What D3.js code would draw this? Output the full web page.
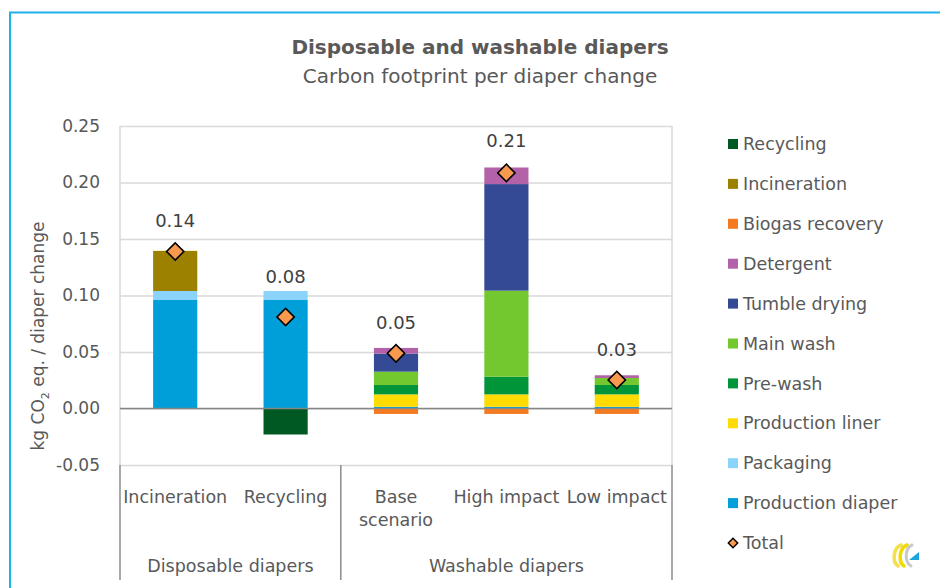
<!DOCTYPE html>
<html>
<head>
<meta charset="utf-8">
<script src="https://cdn.jsdelivr.net/npm/d3@7"></script>
<style>
  body { margin: 0; background: #fff; }
  text { font-family: "DejaVu Sans", sans-serif; fill: #595959; }
</style>
</head>
<body>
<div id="chart"></div>
<script>
// categories and groups
let categories = ['Incineration', 'Recycling', 'Base scenario', 'High impact', 'Low impact'];
let catLines = [['Incineration'], ['Recycling'], ['Base', 'scenario'], ['High impact'], ['Low impact']];
let groups = [{name: 'Disposable diapers', from: 0, to: 2}, {name: 'Washable diapers', from: 2, to: 5}];

// series values, stacking order bottom -> top
let productionDiaper = [0.096, 0.096, 0.0015, 0.0015, 0.0015];
let packaging        = [0.008, 0.008, 0, 0, 0];
let productionLiner  = [0, 0, 0.011, 0.011, 0.011];
let preWash          = [0, 0, 0.0083, 0.0156, 0.0083];
let mainWash         = [0, 0, 0.0118, 0.0762, 0.0062];
let tumbleDrying     = [0, 0, 0.016, 0.0943, 0];
let detergent        = [0, 0, 0.005, 0.0147, 0.0024];
let biogasRecovery   = [0, 0, -0.0048, -0.0048, -0.0048];
let incineration     = [0.0355, 0, 0, 0, 0];
let recycling        = [0, -0.023, 0, 0, 0];
let totals           = [0.139, 0.081, 0.0488, 0.2085, 0.0252];

let yTicks = [-0.05, 0, 0.05, 0.10, 0.15, 0.20, 0.25];

let series = [
    {name: 'Production diaper', values: productionDiaper, color: '#009fd9'},
    {name: 'Packaging', values: packaging, color: '#8ad3fb'},
    {name: 'Production liner', values: productionLiner, color: '#ffdb00'},
    {name: 'Pre-wash', values: preWash, color: '#009539'},
    {name: 'Main wash', values: mainWash, color: '#73c72f'},
    {name: 'Tumble drying', values: tumbleDrying, color: '#354a94'},
    {name: 'Detergent', values: detergent, color: '#b362a9'},
    {name: 'Biogas recovery', values: biogasRecovery, color: '#f47a22'},
    {name: 'Incineration', values: incineration, color: '#9c8100'},
    {name: 'Recycling', values: recycling, color: '#005823'}
];

const W = 940, H = 588;
const plot = {left: 120, right: 672, top: 126, bottom: 465};
const fmt = function(d) {return d.toFixed(2)};

let svg = d3.select('#chart').append('svg').attr('width', W).attr('height', H);

// outer frame
svg.append('rect')
    .attr('x', 10).attr('y', 12.5)
    .attr('width', 1000).attr('height', 700)
    .attr('fill', 'none')
    .attr('stroke', '#1fb1ea')
    .attr('stroke-width', 2);

let x = d3.scaleBand().domain(categories).range([plot.left, plot.right]).paddingInner(0.6).paddingOuter(0.3);
let y = d3.scaleLinear().domain([-0.05, 0.25]).range([plot.bottom, plot.top]);

// gridlines + y labels
let yAxis = svg.append('g')
    .attr('transform', 'translate(' + plot.left + ',0)')
    .call(d3.axisLeft(y).tickValues(yTicks).tickFormat(fmt).tickSize(-(plot.right - plot.left)).tickPadding(20));
yAxis.select('.domain').remove();
yAxis.selectAll('line').attr('stroke', '#d9d9d9').attr('stroke-width', 1.5);
yAxis.selectAll('text').style('font-size', '17px').style('fill', '#595959');

// plot sides
svg.append('line').attr('x1', plot.left).attr('x2', plot.left).attr('y1', plot.top).attr('y2', plot.bottom)
    .attr('stroke', '#d9d9d9').attr('stroke-width', 1.5);
svg.append('line').attr('x1', plot.right).attr('x2', plot.right).attr('y1', plot.top).attr('y2', plot.bottom)
    .attr('stroke', '#d9d9d9').attr('stroke-width', 1.5);

// stacked bars
let rows = categories.map(function(c, i) {
    let r = {category: c};
    series.forEach(function(s) { r[s.name] = s.values[i]; });
    return r;
});
let stack = d3.stack().keys(series.map(function(s) {return s.name})).offset(d3.stackOffsetDiverging);
let stacked = stack(rows);

svg.append('g').selectAll('g')
    .data(stacked)
    .enter()
    .append('g')
    .attr('fill', function(d, i) {return series[i].color})
    .selectAll('rect')
    .data(function(d) {return d})
    .enter()
    .append('rect')
    .attr('x', function(d) {return x(d.data.category)})
    .attr('width', x.bandwidth())
    .attr('y', function(d) {return y(Math.max(d[0], d[1]))})
    .attr('height', function(d) {return Math.abs(y(d[0]) - y(d[1]))});

// zero line
svg.append('line').attr('x1', plot.left).attr('x2', plot.right).attr('y1', y(0)).attr('y2', y(0))
    .attr('stroke', '#868686').attr('stroke-width', 1.5);

// totals
let diamond = d3.symbol().type(d3.symbolSquare).size(150);
svg.append('g').selectAll('path')
    .data(totals)
    .enter()
    .append('path')
    .attr('d', diamond)
    .attr('transform', function(d, i) {
        return 'translate(' + (x(categories[i]) + x.bandwidth() / 2) + ',' + y(d) + ') rotate(45)';
    })
    .attr('fill', '#f79a4f')
    .attr('stroke', '#000')
    .attr('stroke-width', 1.6);

// value labels (second one was moved up a bit in the original)
let labelDy = [-31, -40, -31, -32, -30];
svg.append('g').selectAll('text')
    .data(totals)
    .enter()
    .append('text')
    .attr('x', function(d, i) {return x(categories[i]) + x.bandwidth() / 2})
    .attr('y', function(d, i) {return y(d) + labelDy[i]})
    .attr('dy', '0.35em')
    .attr('text-anchor', 'middle')
    .style('font-size', '18px')
    .style('fill', '#404040')
    .text(fmt);

// category axis
let step = x.step();
let catAxis = svg.append('g');
catAxis.selectAll('text')
    .data(catLines)
    .enter()
    .append('text')
    .attr('x', function(d, i) {return x(categories[i]) + x.bandwidth() / 2})
    .attr('y', 503)
    .attr('text-anchor', 'middle')
    .style('font-size', '17.5px')
    .each(function(d) {
        let t = d3.select(this);
        d.forEach(function(line, j) {
            t.append('tspan').attr('x', t.attr('x')).attr('dy', j === 0 ? 0 : 23).text(line);
        });
    });

let dividers = [0].concat(groups.map(function(g) {return g.to}));
catAxis.selectAll('line')
    .data(dividers)
    .enter()
    .append('line')
    .attr('x1', function(d) {return plot.left + d * step})
    .attr('x2', function(d) {return plot.left + d * step})
    .attr('y1', plot.bottom)
    .attr('y2', 580)
    .attr('stroke', '#8c8c8c')
    .attr('stroke-width', 1.5);

catAxis.selectAll('.group')
    .data(groups)
    .enter()
    .append('text')
    .attr('class', 'group')
    .attr('x', function(d) {return plot.left + (d.from + d.to) / 2 * step})
    .attr('y', 572)
    .attr('text-anchor', 'middle')
    .style('font-size', '17.5px')
    .text(function(d) {return d.name});

// y axis title
let yTitle = svg.append('text')
    .attr('transform', 'translate(44,336) rotate(-90)')
    .attr('text-anchor', 'middle')
    .style('font-size', '17px');
yTitle.append('tspan').text('kg CO');
yTitle.append('tspan').attr('dy', 5).style('font-size', '11px').text('2');
yTitle.append('tspan').attr('dy', -5).text(' eq. / diaper change');

// title
svg.append('text').attr('x', 480).attr('y', 54).attr('text-anchor', 'middle')
    .style('font-size', '20px').style('font-weight', 'bold').style('fill', '#595959')
    .text('Disposable and washable diapers');
svg.append('text').attr('x', 480).attr('y', 83).attr('text-anchor', 'middle')
    .style('font-size', '20px').style('fill', '#595959')
    .text('Carbon footprint per diaper change');

// legend
let legendItems = series.slice().reverse().concat([{name: 'Total', total: true}]);
let legend = svg.append('g').selectAll('g')
    .data(legendItems)
    .enter()
    .append('g')
    .attr('transform', function(d, i) {return 'translate(728,' + (144 + i * 39.9) + ')'});
legend.filter(function(d) {return !d.total})
    .append('rect')
    .attr('x', 0).attr('y', -5).attr('width', 10).attr('height', 10)
    .attr('fill', function(d) {return d.color});
legend.filter(function(d) {return d.total})
    .append('path')
    .attr('d', d3.symbol().type(d3.symbolSquare).size(45))
    .attr('transform', 'translate(5,0) rotate(45)')
    .attr('fill', '#f79a4f').attr('stroke', '#000').attr('stroke-width', 1.4);
legend.append('text')
    .attr('x', 15).attr('dy', '0.35em')
    .style('font-size', '17.5px')
    .text(function(d) {return d.name});

// small logo bottom right
let logo = svg.append('g').attr('fill', 'none').attr('stroke-linecap', 'round');
logo.append('path').attr('d', 'M901,545 C893,548 892,562 898,566').attr('stroke', '#f3e04a').attr('stroke-width', 3.5);
logo.append('path').attr('d', 'M907,545 C899,548 898,562 904,566').attr('stroke', '#f2d900').attr('stroke-width', 3.5);
logo.append('path').attr('d', 'M912,545 C905,548 904,562 911,566').attr('stroke', '#c9c9c9').attr('stroke-width', 3);
logo.append('path').attr('d', 'M909,560 L919,560 L919,552 Z').attr('fill', '#1fa3e0').attr('stroke', 'none');
</script>
</body>
</html>
